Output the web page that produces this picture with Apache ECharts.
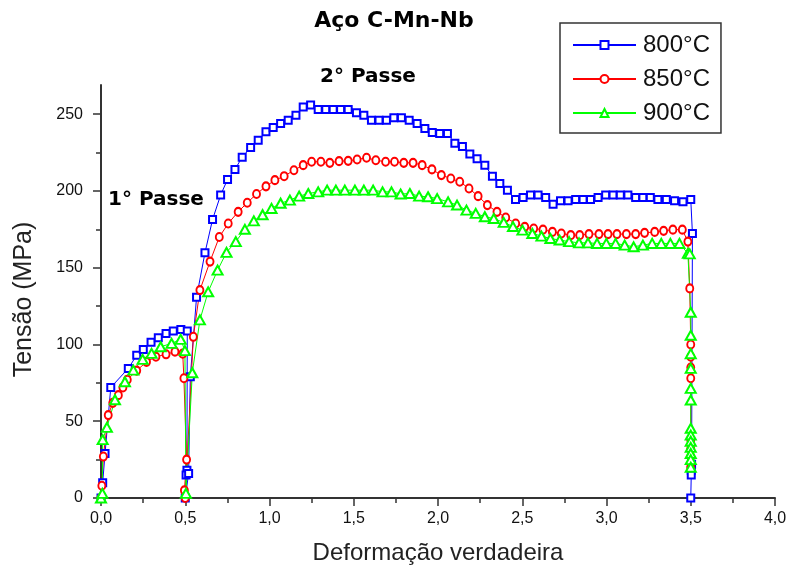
<!DOCTYPE html>
<html>
<head>
<meta charset="utf-8">
<script src="https://cdn.jsdelivr.net/npm/echarts@6/dist/echarts.min.js"></script>
<style>html,body{margin:0;padding:0;background:#fff;}#chart{width:788px;height:572px;}</style>
</head>
<body>
<div id="chart"></div>
<script>
const chartTitle = 'Aço C-Mn-Nb';
const seriesNames = ['800°C', '850°C', '900°C'];
const xTicks = [0, 0.5, 1.0, 1.5, 2.0, 2.5, 3.0, 3.5, 4.0];
const yTickLabels = [0, 50, 100, 150, 200, 250];
const yMinorTicks = [25, 75, 125, 175, 225];
const passLabels = ['1° Passe', '2° Passe'];

// [strain, stress MPa]
const curve800 = [[0,0],[0.01,10],[0.024,29],[0.058,72],[0.162,84.4],[0.212,93],[0.251,96.8],[0.297,101.4],[0.34,104.4],[0.386,107.2],[0.429,108.7],[0.474,109.8],[0.512,108.7],[0.51,18],[0.505,15],[0.5,0],
[0.52,16],[0.53,79],[0.567,130.7],[0.617,159.7],[0.662,181.4],[0.71,197.3],[0.751,207.5],[0.795,214],[0.838,222],[0.888,228.3],[0.933,233],[0.979,238.5],[1.022,241.3],[1.066,244],[1.111,246],[1.157,249.3],[1.2,254.7],[1.244,256],[1.289,253],[1.334,253],[1.378,253],[1.422,253],[1.467,253],[1.516,251],[1.56,249.3],[1.605,246],[1.65,246],[1.694,246],[1.738,247.6],[1.783,247.6],[1.829,246],[1.876,244],[1.922,240.7],[1.966,238],[2.01,237.4],[2.056,237.4],[2.1,231],[2.145,229],[2.189,224],[2.232,221],[2.278,216.8],[2.323,209.6],[2.367,204.9],[2.412,200.5],[2.46,194.5],[2.505,195.8],[2.549,197.3],[2.594,197.3],[2.639,195.8],[2.683,191.4],[2.727,193.6],[2.772,193.6],[2.817,194.5],[2.861,194.5],[2.905,194.5],[2.95,195.8],[2.995,197.3],[3.039,197.3],[3.082,197.3],[3.127,197.3],[3.173,195.8],[3.216,195.8],[3.26,195.8],[3.305,194.5],[3.355,194.5],[3.404,193.6],[3.454,192.9],[3.5,194.5],[3.51,172.3],[3.505,22],[3.503,18],[3.503,15],[3.5,0]];

const curve850 = [[0,0],[0.005,8],[0.014,27],[0.043,54],[0.07,62],[0.103,67],[0.13,72],[0.156,77],[0.212,83],[0.27,88.7],[0.326,92],[0.386,93.6],[0.439,95.3],[0.485,94],[0.492,78],[0.508,25],[0.495,5],[0.5,0],
[0.548,105],[0.587,135.4],[0.647,154],[0.702,170],[0.755,178.8],[0.814,186.4],[0.868,192.3],[0.923,198],[0.979,203],[1.032,207],[1.087,209.6],[1.145,213.5],[1.2,216.8],[1.25,219],[1.305,219],[1.358,218.3],[1.413,219.4],[1.467,219.6],[1.52,220.5],[1.576,221.6],[1.631,220],[1.689,219],[1.742,219],[1.797,218.3],[1.852,218.3],[1.906,216.8],[1.964,214],[2.02,210.3],[2.076,208.1],[2.129,206],[2.184,201.6],[2.238,196.6],[2.293,190.8],[2.35,186.4],[2.402,182.7],[2.461,178.8],[2.515,176.6],[2.568,175.5],[2.623,174.8],[2.679,173.3],[2.732,172.3],[2.788,171.2],[2.841,171.2],[2.896,171.9],[2.955,171.9],[3.009,171.9],[3.062,171.9],[3.118,171.9],[3.173,171.9],[3.226,172.7],[3.286,173.3],[3.339,174],[3.394,174.8],[3.45,174.8],[3.483,167],[3.494,136.5],[3.5,100],[3.5,92],[3.5,85],[3.5,78],[3.5,38],[3.5,32],[3.5,27],[3.5,20]];

const curve900 = [[0,0],[0.008,3],[0.01,38],[0.035,46],[0.083,64],[0.142,75.7],[0.192,83.3],[0.247,90.3],[0.3,94.2],[0.354,98.5],[0.419,100.7],[0.473,103.3],[0.498,96],[0.504,3],
[0.542,81.6],[0.587,116],[0.636,134.3],[0.692,148.4],[0.745,160],[0.8,167],[0.854,175],[0.907,180.5],[0.959,184.5],[1.012,188.6],[1.066,192],[1.121,194],[1.176,196.6],[1.23,198.3],[1.289,199.4],[1.342,200.5],[1.394,200.5],[1.447,200.5],[1.507,200.5],[1.56,200.5],[1.615,200.5],[1.671,199.4],[1.724,199.4],[1.778,198],[1.833,198.3],[1.888,196.6],[1.941,196.2],[1.995,195],[2.06,192.9],[2.113,190.8],[2.169,187.5],[2.224,185.4],[2.278,183.2],[2.331,182],[2.39,179.5],[2.445,176.8],[2.501,174.5],[2.56,172.3],[2.614,170.6],[2.667,169],[2.722,168],[2.778,167],[2.837,166.2],[2.89,166.2],[2.944,165.8],[2.999,165.8],[3.054,165.8],[3.108,164.7],[3.161,163.6],[3.216,164.7],[3.271,165.8],[3.325,165.8],[3.379,165.8],[3.433,165.8],[3.483,159.3],[3.494,159],[3.5,121],[3.5,106],[3.5,94],[3.5,84.4],[3.5,71.4],[3.5,63.8],[3.5,45.4],[3.5,41],[3.5,37],[3.5,33],[3.5,29],[3.5,25],[3.5,20]];

const curves = [curve800, curve850, curve900];
const colors = ['#0000ff', '#ff0000', '#00ff00'];
const symbols = ['emptyRect', 'emptyCircle', 'emptyTriangle'];
const symbolSizes = [7, [7, 8], [10, 9]];

const FONT = 'Liberation Sans, Arial, sans-serif';
const AXIS_COLOR = '#333';

const chart = echarts.init(document.getElementById('chart'), null, { renderer: 'canvas' });

const series = seriesNames.map((name, i) => ({
  name,
  type: 'line',
  data: curves[i],
  xAxisIndex: 0,
  yAxisIndex: 0,
  symbol: symbols[i],
  symbolSize: symbolSizes[i],
  showAllSymbol: true,
  color: colors[i],
  lineStyle: { color: colors[i], width: 1 },
  itemStyle: { color: colors[i], borderColor: colors[i], borderWidth: 1 },
  emphasis: { disabled: true },
  animation: false
}));

chart.setOption({
  backgroundColor: '#ffffff',
  animation: false,
  title: {
    text: chartTitle,
    left: 'center',
    top: 5,
    padding: [5, 17, 5, 5],
    textStyle: { fontFamily: 'DejaVu Sans', fontWeight: 'bold', fontSize: 22, color: '#000' }
  },
  legend: {
    data: seriesNames,
    orient: 'vertical',
    left: 560,
    top: 23,
    padding: [10, 11, 8, 12],
    itemWidth: 63,
    itemHeight: 10,
    itemGap: 10,
    backgroundColor: '#fff',
    borderColor: '#333',
    borderWidth: 1.5,
    borderRadius: 0,
    textStyle: { fontFamily: FONT, fontSize: 24, lineHeight: 24, color: '#111', padding: [0, 0, 0, 2] }
  },
  grid: { left: 101, right: 13, top: 85, bottom: 74, containLabel: false, outerBoundsMode: 'none' },
  xAxis: {
    type: 'value',
    min: xTicks[0],
    max: xTicks[xTicks.length - 1],
    interval: 0.5,
    name: 'Deformação verdadeira',
    nameLocation: 'middle',
    nameGap: 43,
    nameTextStyle: { fontFamily: FONT, fontSize: 24, color: '#222' },
    axisLine: { show: true, onZero: false, lineStyle: { color: AXIS_COLOR, width: 2 } },
    axisTick: { show: true, inside: false, length: 8, lineStyle: { color: AXIS_COLOR, width: 1.5 } },
    minorTick: { show: true, splitNumber: 2, length: 5, lineStyle: { color: AXIS_COLOR, width: 1.5 } },
    axisLabel: { fontFamily: FONT, fontSize: 16, color: '#111', margin: 13,
      formatter: v => v.toFixed(1).replace('.', ',') },
    splitLine: { show: false },
    minorSplitLine: { show: false }
  },
  yAxis: [{
    type: 'value',
    min: 0,
    max: 269,
    interval: 50,
    position: 'left',
    name: 'Tensão (MPa)',
    nameLocation: 'middle',
    nameGap: 64,
    nameRotate: 90,
    nameTextStyle: { fontFamily: FONT, fontSize: 25, color: '#222', padding: [0, 16, 0, 0] },
    axisLine: { show: true, onZero: false, lineStyle: { color: AXIS_COLOR, width: 2 } },
    axisTick: { show: true, inside: false, length: 8, customValues: yTickLabels, lineStyle: { color: AXIS_COLOR, width: 1.5 } },
    axisLabel: { fontFamily: FONT, fontSize: 16, color: '#111', margin: 18, customValues: yTickLabels },
    splitLine: { show: false }
  }, {
    type: 'value',
    min: 0,
    max: 269,
    position: 'left',
    axisLine: { show: false },
    axisTick: { show: true, inside: false, length: 5, customValues: yMinorTicks, lineStyle: { color: AXIS_COLOR, width: 1.5 } },
    axisLabel: { show: false },
    splitLine: { show: false }
  }],
  graphic: [
    { type: 'text', x: 156, y: 200, style: { text: passLabels[0], font: 'bold 20px "DejaVu Sans"', fill: '#000', align: 'center', verticalAlign: 'middle' } },
    { type: 'text', x: 368, y: 77, style: { text: passLabels[1], font: 'bold 20px "DejaVu Sans"', fill: '#000', align: 'center', verticalAlign: 'middle' } }
  ],
  series
});
</script>
</body>
</html>
